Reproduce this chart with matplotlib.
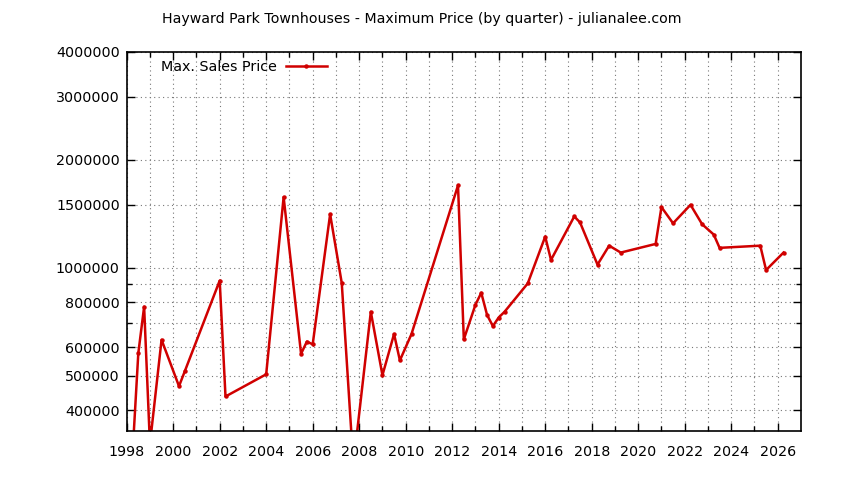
import numpy as np
import matplotlib
matplotlib.use("Agg")
import matplotlib.pyplot as plt
from matplotlib.ticker import FixedLocator, NullFormatter, FixedFormatter

# max sale price per quarter
years = [1998.25, 1998.5, 1998.75, 1999.0, 1999.5, 2000.25, 2000.5, 2002.0, 2002.25,
         2004.0, 2004.75, 2005.5, 2005.75, 2006.0, 2006.75, 2007.25, 2007.75, 2008.5,
         2009.0, 2009.5, 2009.75, 2010.25, 2012.25, 2012.5, 2013.0, 2013.25, 2013.5,
         2013.75, 2014.0, 2014.25, 2015.25, 2016.0, 2016.25, 2017.25, 2017.5, 2018.25,
         2018.75, 2019.25, 2020.75, 2021.0, 2021.5, 2022.25, 2022.75, 2023.25, 2023.5,
         2025.25, 2025.5, 2026.25]
prices = [300000, 577000, 778000, 322000, 629000, 467000, 514000, 920000, 437000,
          504000, 1574000, 575000, 622000, 611000, 1410000, 906000, 282000, 753000,
          501000, 653000, 551000, 653000, 1697000, 631000, 788000, 851000, 738000,
          687000, 726000, 753000, 904000, 1221000, 1051000, 1390000, 1337000, 1020000,
          1152000, 1102000, 1165000, 1476000, 1330000, 1498000, 1322000, 1237000, 1136000,
          1152000, 985000, 1102000]

ytick_vals = [400000, 500000, 600000, 800000, 1000000, 1500000, 2000000, 3000000, 4000000]
ytick_minor = [700000, 900000]

plt.rcParams['font.family'] = 'DejaVu Sans'
plt.rcParams['font.size'] = 10

fig = plt.figure(figsize=(8.44, 4.8), dpi=100)
ax = fig.add_axes([0.1501, 0.102, 0.949 - 0.1501, 0.8917 - 0.102])

ax.plot(years, prices, color='#d00000', lw=1.8, marker='o', ms=2.2, label='Max. Sales Price')

ax.set_yscale('log')
ax.set_xlim(1998, 2027)
ax.set_ylim(350000, 4000000)

ax.yaxis.set_major_locator(FixedLocator(ytick_vals))
ax.yaxis.set_major_formatter(FixedFormatter([str(v) for v in ytick_vals]))
ax.yaxis.set_minor_locator(FixedLocator(ytick_minor))
ax.yaxis.set_minor_formatter(NullFormatter())

ax.xaxis.set_major_locator(FixedLocator(np.arange(1998, 2027, 2)))
ax.xaxis.set_minor_locator(FixedLocator(np.arange(1999, 2027, 2)))

ax.tick_params(which='both', direction='in', top=True, right=True, color='black',
               labelsize=10.3)
ax.tick_params(which='major', length=6, width=1)
ax.tick_params(which='minor', length=3.5, width=1)
ax.tick_params(axis='y', which='major', pad=5)
ax.tick_params(axis='x', which='major', pad=10)

ax.grid(True, which='both', color='#777777', linestyle=(0, (1, 3)), lw=0.8)
for s in ax.spines.values():
    s.set_linewidth(1.2)

ax.legend(loc='upper left', bbox_to_anchor=(0.032, 1.012), frameon=False, markerfirst=False,
          handlelength=2.9, handletextpad=0.6, fontsize=10.3)

fig.text(0.5, 0.96, 'Hayward Park Townhouses - Maximum Price (by quarter) - julianalee.com',
         ha='center', va='center', fontsize=10.2)

fig.savefig('out.png', dpi=100)
